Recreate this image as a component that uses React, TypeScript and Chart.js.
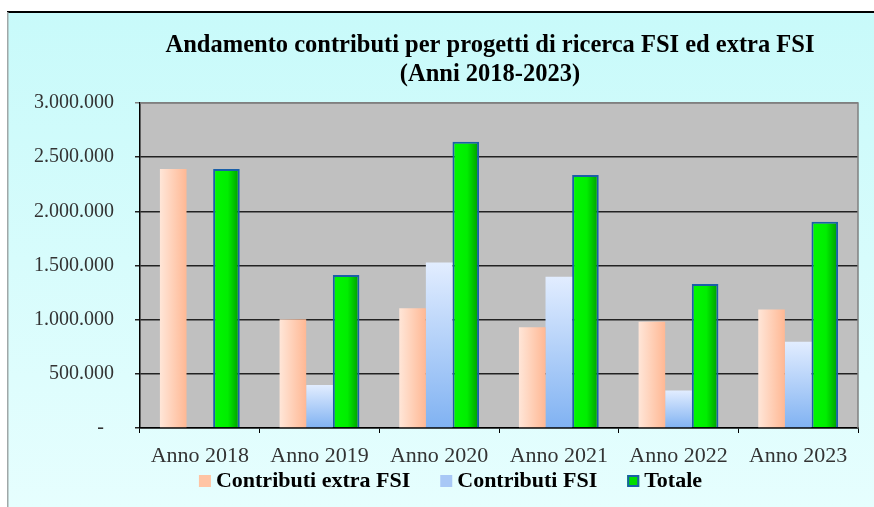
import React, { useEffect, useRef } from "react";
import { Chart, registerables } from "chart.js";

Chart.register(...registerables);

const categories = ["Anno 2018", "Anno 2019", "Anno 2020", "Anno 2021", "Anno 2022", "Anno 2023"];
const contributiExtraFSI = [2390000, 1005000, 1105000, 930000, 980000, 1095000];
const contributiFSI = [0, 397000, 1527000, 1397000, 346000, 797000];
const totale = [2390000, 1412000, 2643000, 2335000, 1329000, 1905000];
const titleLines = ["Andamento contributi per progetti di ricerca FSI ed extra FSI", "(Anni 2018-2023)"];
const seriesNames = ["Contributi extra FSI", "Contributi FSI", "Totale"];
const yTickValues = [0, 500000, 1000000, 1500000, 2000000, 2500000, 3000000];

const CAT_PCT = 0.667;
const SERIF = "'Liberation Serif', 'Times New Roman', serif";
const LEGEND_COLORS = ["#ffc4a4", "#a8c8f6", "#00dd00"];

function fmt(v: number): string {
  if (v === 0) return "-\u2002";
  return String(Math.round(v)).replace(/\B(?=(\d{3})+(?!\d))/g, ".");
}

function barGeom(ctx: any) {
  const chart = ctx.chart;
  const xs = chart.scales.x;
  const cx = xs.getPixelForValue(ctx.dataIndex);
  const catW = (xs.right - xs.left) / categories.length;
  const w = (catW * CAT_PCT) / 3;
  const center = cx + (ctx.datasetIndex - 1) * w;
  return { x0: center - w / 2, x1: center + w / 2 };
}

function hGradient(solid: string, stops: [number, string][]) {
  return (ctx: any) => {
    if (ctx.type !== "data" || !ctx.chart.chartArea || !ctx.chart.scales.x) return solid;
    const { x0, x1 } = barGeom(ctx);
    if (!isFinite(x0) || !isFinite(x1)) return solid;
    const g = ctx.chart.ctx.createLinearGradient(x0, 0, x1, 0);
    stops.forEach(([o, c]) => g.addColorStop(o, c));
    return g;
  };
}

function vGradient(solid: string, c0: string, c1: string) {
  return (ctx: any) => {
    if (ctx.type !== "data" || !ctx.chart.chartArea || !ctx.chart.scales.y) return solid;
    const ys = ctx.chart.scales.y;
    const v = ctx.raw as number;
    const yTop = ys.getPixelForValue(v);
    const yBot = ys.getPixelForValue(0);
    if (!isFinite(yTop) || !isFinite(yBot) || yBot - yTop < 1) return solid;
    const g = ctx.chart.ctx.createLinearGradient(0, yTop, 0, yBot);
    g.addColorStop(0, c0);
    g.addColorStop(1, c1);
    return g;
  };
}

const backgroundPlugin = {
  id: "bgPlugin",
  afterLayout(chart: any) {
    const tb = chart.titleBlock;
    if (tb) {
      tb.left += 61;
      tb.right += 61;
    }
  },
  beforeDraw(chart: any) {
    const { ctx, width, height, chartArea } = chart;
    ctx.save();
    ctx.fillStyle = "#ffffff";
    ctx.fillRect(0, 0, width, height);
    const g = ctx.createLinearGradient(0, 12, 0, height);
    g.addColorStop(0, "#c8fafa");
    g.addColorStop(1, "#e6fefe");
    ctx.fillStyle = g;
    ctx.fillRect(7, 12, width - 7, height - 12);
    ctx.fillStyle = "#000000";
    ctx.fillRect(7, 11, width - 7, 2);
    ctx.fillStyle = "#a0a8a8";
    ctx.fillRect(7, 12, 1.5, height - 12);
    ctx.fillStyle = "#c0c0c0";
    ctx.fillRect(chartArea.left, chartArea.top, chartArea.right - chartArea.left, chartArea.bottom - chartArea.top);
    ctx.restore();
  },
  afterDatasetsDraw(chart: any) {
    const { ctx, chartArea } = chart;
    ctx.save();
    ctx.strokeStyle = "#808080";
    ctx.lineWidth = 1.5;
    ctx.beginPath();
    ctx.moveTo(chartArea.left, chartArea.top);
    ctx.lineTo(chartArea.right, chartArea.top);
    ctx.lineTo(chartArea.right, chartArea.bottom);
    ctx.stroke();
    ctx.restore();
  },
  afterDraw(chart: any) {
    const ctx = chart.ctx;
    ctx.save();
    ctx.font = `bold 22px ${SERIF}`;
    ctx.textBaseline = "alphabetic";
    ctx.textAlign = "left";
    const box = 12;
    const gapBoxText = 5;
    const gapItems = 30;
    const widths = seriesNames.map((n) => ctx.measureText(n).width);
    const total = widths.reduce((a, w) => a + box + gapBoxText + w, 0) + gapItems * (seriesNames.length - 1);
    const centerX = 450.5;
    let x = centerX - total / 2;
    const baseline = 487;
    seriesNames.forEach((name, i) => {
      ctx.fillStyle = LEGEND_COLORS[i];
      ctx.fillRect(x, baseline - box, box, box);
      if (i === 2) {
        ctx.strokeStyle = "#1a5fa8";
        ctx.lineWidth = 2;
        ctx.strokeRect(x + 1, baseline - box + 1, box - 2, box - 2);
      }
      ctx.fillStyle = "#000000";
      ctx.fillText(name, x + box + gapBoxText, baseline);
      x += box + gapBoxText + widths[i] + gapItems;
    });
    ctx.restore();
  },
};

export default function App() {
  const ref = useRef<HTMLCanvasElement | null>(null);

  useEffect(() => {
    if (!ref.current) return;
    const chart = new Chart(ref.current, {
      type: "bar",
      data: {
        labels: categories,
        datasets: [
          {
            label: seriesNames[0],
            data: contributiExtraFSI,
            backgroundColor: hGradient("#ffc8a8", [[0, "#ffe6d8"], [1, "#ffb894"]]),
            borderWidth: 0,
            categoryPercentage: CAT_PCT,
            barPercentage: 1,
          },
          {
            label: seriesNames[1],
            data: contributiFSI,
            backgroundColor: vGradient("#a8c8f6", "#e2edff", "#80b2f2"),
            borderWidth: 0,
            categoryPercentage: CAT_PCT,
            barPercentage: 1,
          },
          {
            label: seriesNames[2],
            data: totale,
            backgroundColor: hGradient("#00cc00", [[0, "#00f800"], [0.55, "#00ee00"], [1, "#009800"]]),
            borderColor: "#1a5fa8",
            borderWidth: 2,
            categoryPercentage: CAT_PCT,
            barPercentage: 1,
          },
        ],
      },
      options: {
        responsive: false,
        animation: false,
        layout: { padding: { left: 0, right: 16, top: 0, bottom: 43 } },
        plugins: {
          title: {
            display: true,
            text: titleLines,
            color: "#000000",
            font: { family: SERIF, size: 24.5, weight: "bold", lineHeight: 29 / 24.5 },
            padding: { top: 31, bottom: 14 },
          },
          legend: { display: false },
          tooltip: { enabled: false },
        },
        scales: {
          x: {
            offset: true,
            grid: {
              offset: true,
              drawOnChartArea: false,
              drawTicks: true,
              tickLength: 5,
              color: "#000000",
            },
            border: { display: true, color: "#000000", width: 1.5 },
            ticks: {
              color: "#333333",
              font: { family: SERIF, size: 22 },
              padding: 10,
            },
            afterFit: (scale: any) => {
              scale.height = 36;
            },
          },
          y: {
            min: 0,
            max: 3000000,
            afterBuildTicks: (scale: any) => {
              scale.ticks = yTickValues.map((v) => ({ value: v }));
            },
            grid: {
              color: (ctx: any) => (ctx.tick && ctx.tick.value === 3000000 ? "#808080" : "#222222"),
              lineWidth: 1.5,
              tickLength: 5,
              drawTicks: true,
            },
            border: { display: true, color: "#000000", width: 1.5 },
            ticks: {
              color: "#333333",
              font: { family: SERIF, size: 20 },
              padding: 21,
              callback: (v: any) => fmt(Number(v)),
            },
            afterFit: (scale: any) => {
              scale.width = 140;
            },
          },
        },
      },
      plugins: [backgroundPlugin],
    });
    return () => chart.destroy();
  }, []);

  return (
    <div style={{ position: "absolute", left: 0, top: 0, width: 874, height: 507 }}>
      <canvas ref={ref} width={874} height={507} style={{ display: "block", width: 874, height: 507 }} />
    </div>
  );
}
